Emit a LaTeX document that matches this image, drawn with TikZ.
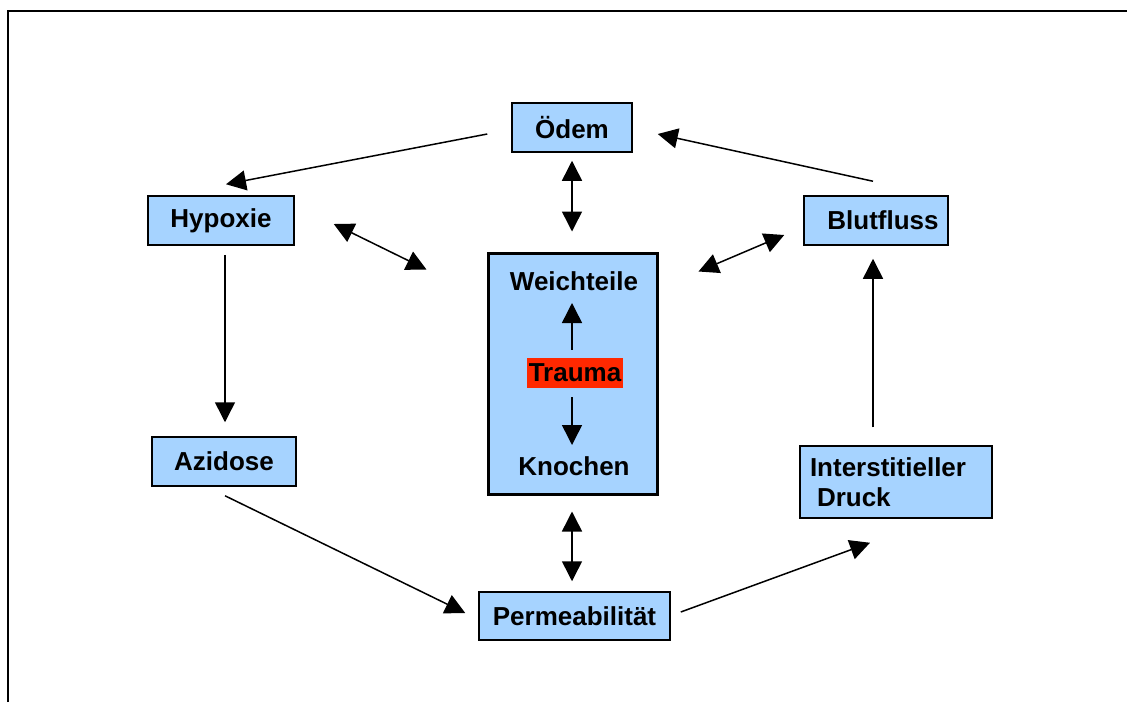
\documentclass[tikz,border=0pt]{standalone}
\usepackage{fontspec}
\setmainfont{Liberation Sans}
\usetikzlibrary{arrows.meta}
\definecolor{boxblue}{RGB}{166,211,255}
\definecolor{traumared}{RGB}{255,40,0}
\begin{document}
\begin{tikzpicture}[x=1pt,y=-1pt,
  every node/.style={font=\fontsize{26}{30}\selectfont\bfseries},
  bluebox/.style={draw=black,line width=1.5pt,fill=boxblue,inner sep=0pt,align=center},
  conn/.style={line width=1.5pt,-{Triangle[length=20pt,width=20pt]}},
  biconn/.style={line width=1.5pt,{Triangle[length=20pt,width=20pt]}-{Triangle[length=20pt,width=20pt]}}]
\useasboundingbox (0,0) rectangle (1127,702);
\draw[line width=2.5pt] (8,702) -- (8,11) -- (1127,11);
% boxes
\node[bluebox,minimum width=120pt,minimum height=49pt] (odem) at (572,127.5) {Ödem};
\node[bluebox,minimum width=146pt,minimum height=49pt] (hyp) at (221,220.5) {Hypoxie};
\node[bluebox,minimum width=144pt,minimum height=49pt] (blut) at (876,220.5) {\hspace*{14pt}Blutfluss};
\node[bluebox,line width=3pt,minimum width=169pt,minimum height=241pt] (ctr) at (572.5,373.5) {};
\node[inner sep=0pt] (weich) at (574,281) {Weichteile};
\node[fill=traumared,inner sep=0pt,minimum width=96pt,minimum height=30pt] (trauma) at (575,373) {Trauma};
\node[inner sep=0pt] (knochen) at (574,466) {Knochen};
\node[bluebox,minimum width=144pt,minimum height=49pt] (azid) at (224,461.5) {Azidose};
\node[bluebox,minimum width=192pt,minimum height=72pt,text width=172pt,align=left,inner sep=10pt] (inter) at (896,482) {Interstitieller\\\hspace*{7pt}Druck};
\node[bluebox,minimum width=191pt,minimum height=48pt] (perm) at (574.5,616) {Permeabilität};
% connectors
\draw[conn] ([shift={(-24,6.5)}]odem.west) -- ([shift={(5,-11)}]hyp.north);
\draw[conn] ([shift={(-3,-14)}]blut.north) -- ([shift={(25,6.5)}]odem.east);
\draw[biconn] ([shift={(0,8)}]odem.south) -- ([shift={(-0.5,-20)}]ctr.north);
\draw[biconn] ([shift={(39,3.5)}]hyp.east) -- ([shift={(-60,18)}]ctr.north west);
\draw[biconn] ([shift={(40,20)}]ctr.north east) -- ([shift={(-19,14.5)}]blut.west);
\draw[conn] ([shift={(4,9)}]hyp.south) -- ([shift={(1,-14)}]azid.north);
\draw[conn] ([shift={(1,9)}]azid.south) -- ([shift={(-13,-3)}]perm.west);
\draw[conn] ([shift={(10,-4)}]perm.east) -- ([shift={(-26,24)}]inter.south);
\draw[conn] ([shift={(-23,-18)}]inter.north) -- ([shift={(-3,13)}]blut.south);
\draw[biconn] ([shift={(-0.5,16)}]ctr.south) -- ([shift={(-2.5,-10)}]perm.north);
\draw[conn] ([shift={(-3,-8)}]trauma.north) -- ([shift={(-2,22)}]weich.center);
\draw[conn] ([shift={(-3,9)}]trauma.south) -- ([shift={(-2,-21)}]knochen.center);
\end{tikzpicture}
\end{document}
